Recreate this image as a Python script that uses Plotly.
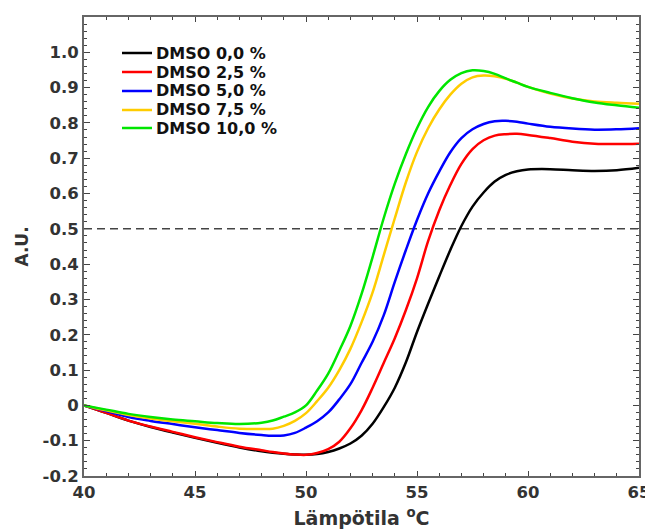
import plotly.graph_objects as go

temperature = [40, 41, 42, 43, 44, 45, 46, 47, 48, 48.5, 49, 49.5, 50, 50.5, 51, 51.5, 52, 52.5,
               53, 53.5, 54, 54.5, 55, 55.5, 56, 56.5, 57, 57.5, 58, 58.5, 59, 59.5, 60, 61, 62, 63, 64, 65]

dmso_0_0 = [0, -0.021, -0.043, -0.061, -0.077, -0.092, -0.106, -0.119, -0.13, -0.134, -0.137, -0.139, -0.14, -0.138,
            -0.132, -0.122, -0.108, -0.086, -0.052, -0.005, 0.05, 0.122, 0.208, 0.288, 0.365, 0.44, 0.508, 0.563,
            0.603, 0.634, 0.653, 0.663, 0.668, 0.669, 0.666, 0.664, 0.666, 0.673]
dmso_2_5 = [0, -0.021, -0.043, -0.06, -0.075, -0.09, -0.104, -0.117, -0.127, -0.132, -0.136, -0.139, -0.14, -0.135,
            -0.124, -0.103, -0.065, -0.014, 0.05, 0.12, 0.19, 0.27, 0.36, 0.465, 0.552, 0.624, 0.684, 0.726,
            0.751, 0.764, 0.768, 0.769, 0.766, 0.757, 0.747, 0.741, 0.740, 0.741]
dmso_5_0 = [0, -0.016, -0.033, -0.044, -0.053, -0.062, -0.07, -0.078, -0.084, -0.086, -0.085, -0.078, -0.063, -0.045,
            -0.02, 0.017, 0.06, 0.12, 0.18, 0.255, 0.35, 0.44, 0.525, 0.6, 0.662, 0.717, 0.757, 0.782,
            0.797, 0.805, 0.806, 0.803, 0.798, 0.789, 0.784, 0.781, 0.782, 0.785]
dmso_7_5 = [0, -0.014, -0.027, -0.037, -0.045, -0.052, -0.06, -0.066, -0.067, -0.066, -0.058, -0.044, -0.022, 0.012,
            0.05, 0.1, 0.16, 0.235, 0.32, 0.425, 0.53, 0.632, 0.718, 0.785, 0.838, 0.88, 0.911, 0.929,
            0.934, 0.932, 0.925, 0.914, 0.902, 0.883, 0.869, 0.861, 0.857, 0.854]
dmso_10_0 = [0, -0.012, -0.024, -0.033, -0.04, -0.045, -0.05, -0.053, -0.049, -0.043, -0.032, -0.02, 0.0, 0.042,
             0.09, 0.155, 0.225, 0.315, 0.42, 0.53, 0.628, 0.712, 0.785, 0.845, 0.89, 0.922, 0.941, 0.949,
             0.947, 0.939, 0.926, 0.914, 0.902, 0.885, 0.87, 0.858, 0.85, 0.843]

series_names = ["DMSO 0,0 %", "DMSO 2,5 %", "DMSO 5,0 %", "DMSO 7,5 %", "DMSO 10,0 %"]
series_values = [dmso_0_0, dmso_2_5, dmso_5_0, dmso_7_5, dmso_10_0]
series_colors = ["#000000", "#ff0000", "#0000ff", "#ffcc00", "#00e600"]

y_ticks = [-0.2, -0.1, 0, 0.1, 0.2, 0.3, 0.4, 0.5, 0.6, 0.7, 0.8, 0.9, 1.0]
y_tick_labels = ["-0.2", "-0.1", "0", "0.1", "0.2", "0.3", "0.4", "0.5", "0.6", "0.7", "0.8", "0.9", "1.0"]
x_ticks = [40, 45, 50, 55, 60, 65]
threshold = 0.5

FONT = "DejaVu Sans"
TXT = "#333333"
BODY = 8  # default page margin around the figure div
W, H = 653 - BODY, 531 - BODY
ML, MR, MT, MB = 84 - BODY, 14, 17 - BODY, 55
PW, PH = W - ML - MR, H - MT - MB
PLOT_BOTTOM_PX = 476

fig = go.Figure()
fig.add_trace(go.Scatter(x=[temperature[0], temperature[-1]], y=[threshold, threshold], mode="lines",
                         line=dict(color="#444444", width=1.5, dash="8px,5px"), showlegend=False,
                         hoverinfo="skip"))
for name, vals, col in zip(series_names, series_values, series_colors):
    fig.add_trace(go.Scatter(x=temperature, y=vals, mode="lines", name=name, showlegend=False,
                             line=dict(color=col, width=2.5, shape="spline", smoothing=1.0)))

# legend drawn as paper-positioned keys (row spacing of the reference)
legend_row_px = [53, 72, 91, 110, 128]
for name, col, py in zip(series_names, series_colors, legend_row_px):
    yp = (PLOT_BOTTOM_PX - py) / PH
    fig.add_shape(type="line", xref="paper", yref="paper",
                  x0=(122 - 84) / PW, x1=(152 - 84) / PW, y0=yp, y1=yp,
                  line=dict(color=col, width=2.5))
    fig.add_annotation(xref="paper", yref="paper", x=(154 - 84) / PW, y=yp, xanchor="left", yanchor="middle",
                       text=name, showarrow=False,
                       font=dict(family=FONT, size=16, color="#111111", weight="bold"))

fig.update_layout(
    width=W, height=H,
    margin=dict(l=ML, r=MR, t=MT, b=MB),
    paper_bgcolor="white", plot_bgcolor="white",
    font=dict(family=FONT, color=TXT),
    showlegend=False,
)
fig.update_xaxes(
    range=[40, 65], tickvals=x_ticks, ticktext=[str(v) for v in x_ticks], automargin=False,
    tickfont=dict(family=FONT, size=16.5, color=TXT, weight="bold"),
    ticks="inside", ticklen=5, tickwidth=1, tickcolor="#444444",
    minor=dict(ticks="inside", dtick=1, ticklen=3, tickcolor="#444444", tickwidth=1),
    showline=True, linecolor="#666666", linewidth=2, mirror="allticks",
    showgrid=False, zeroline=False,
    title=dict(text="<b>Lämpötila <sup>o</sup>C</b>", font=dict(family=FONT, size=19, color=TXT), standoff=11),
)
fig.update_yaxes(
    range=[-0.2, 1.1], tickvals=y_ticks, ticktext=y_tick_labels, automargin=False,
    tickfont=dict(family=FONT, size=16.5, color=TXT, weight="bold"),
    ticks="inside", ticklen=6, tickwidth=1, tickcolor="#444444",
    minor=dict(ticks="inside", dtick=0.02, ticklen=3, tickcolor="#444444", tickwidth=1),
    showline=True, linecolor="#666666", linewidth=2, mirror="allticks",
    showgrid=False, zeroline=False,
    title=dict(text="<b>A.U.</b>", font=dict(family=FONT, size=17, color=TXT), standoff=10),
)

fig.write_html("out.html")
